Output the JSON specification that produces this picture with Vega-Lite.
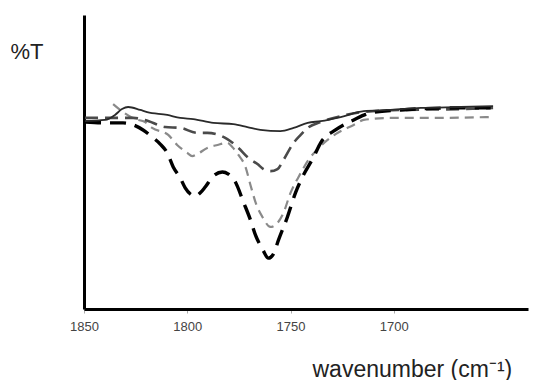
{
  "$schema": "https://vega.github.io/schema/vega-lite/v6.json",
  "width": 444,
  "height": 294,
  "autosize": {"type": "none"},
  "padding": {"left": 84, "top": 15, "right": 19, "bottom": 71},
  "background": "white",
  "config": {"view": {"stroke": null}, "font": "Liberation Sans"},
  "data": {"values": [
    {"s":"A","wn":1849.5,"t":63.9},{"s":"A","wn":1839.8,"t":64.3},{"s":"A","wn":1835.0,"t":66.0},{"s":"A","wn":1831.6,"t":68.0},{"s":"A","wn":1828.6,"t":68.7},{"s":"A","wn":1822.8,"t":67.7},{"s":"A","wn":1819.4,"t":67.0},{"s":"A","wn":1809.7,"t":66.0},{"s":"A","wn":1803.4,"t":65.0},{"s":"A","wn":1797.1,"t":64.6},{"s":"A","wn":1787.4,"t":63.3},{"s":"A","wn":1777.7,"t":62.9},{"s":"A","wn":1770.9,"t":61.9},{"s":"A","wn":1764.6,"t":60.9},{"s":"A","wn":1754.9,"t":60.5},{"s":"A","wn":1748.5,"t":61.6},{"s":"A","wn":1741.7,"t":63.3},{"s":"A","wn":1735.4,"t":63.9},{"s":"A","wn":1725.7,"t":65.3},{"s":"A","wn":1714.6,"t":67.3},{"s":"A","wn":1702.9,"t":67.7},{"s":"A","wn":1686.9,"t":68.4},{"s":"A","wn":1667.5,"t":68.7},{"s":"A","wn":1651.9,"t":69.0},
    {"s":"B","wn":1849.5,"t":65.0},{"s":"B","wn":1839.8,"t":65.0},{"s":"B","wn":1826.2,"t":65.0},{"s":"B","wn":1820.4,"t":64.3},{"s":"B","wn":1810.7,"t":61.9},{"s":"B","wn":1803.4,"t":61.6},{"s":"B","wn":1795.1,"t":59.9},{"s":"B","wn":1790.3,"t":59.9},{"s":"B","wn":1780.6,"t":57.8},{"s":"B","wn":1775.2,"t":54.8},{"s":"B","wn":1770.4,"t":51.4},{"s":"B","wn":1766.0,"t":49.3},{"s":"B","wn":1763.1,"t":47.6},{"s":"B","wn":1759.7,"t":46.9},{"s":"B","wn":1756.3,"t":47.6},{"s":"B","wn":1753.4,"t":50.7},{"s":"B","wn":1748.5,"t":56.5},{"s":"B","wn":1745.1,"t":59.2},{"s":"B","wn":1741.7,"t":61.6},{"s":"B","wn":1735.4,"t":63.6},{"s":"B","wn":1725.7,"t":65.6},{"s":"B","wn":1714.6,"t":67.0},{"s":"B","wn":1696.6,"t":67.7},{"s":"B","wn":1667.5,"t":68.0},{"s":"B","wn":1651.9,"t":68.4},
    {"s":"C","wn":1835.9,"t":69.7},{"s":"C","wn":1831.1,"t":67.0},{"s":"C","wn":1825.2,"t":64.6},{"s":"C","wn":1820.4,"t":63.6},{"s":"C","wn":1817.0,"t":61.6},{"s":"C","wn":1809.2,"t":59.2},{"s":"C","wn":1804.9,"t":55.8},{"s":"C","wn":1800.0,"t":53.1},{"s":"C","wn":1797.6,"t":52.0},{"s":"C","wn":1795.1,"t":52.7},{"s":"C","wn":1790.3,"t":54.8},{"s":"C","wn":1785.4,"t":55.8},{"s":"C","wn":1780.6,"t":56.5},{"s":"C","wn":1778.2,"t":55.1},{"s":"C","wn":1775.2,"t":52.4},{"s":"C","wn":1771.8,"t":48.3},{"s":"C","wn":1769.4,"t":42.2},{"s":"C","wn":1766.5,"t":35.4},{"s":"C","wn":1763.6,"t":31.3},{"s":"C","wn":1759.7,"t":27.9},{"s":"C","wn":1756.8,"t":28.9},{"s":"C","wn":1753.4,"t":32.7},{"s":"C","wn":1750.0,"t":39.5},{"s":"C","wn":1746.1,"t":44.9},{"s":"C","wn":1741.3,"t":50.7},{"s":"C","wn":1735.4,"t":55.4},{"s":"C","wn":1728.2,"t":59.5},{"s":"C","wn":1719.4,"t":62.6},{"s":"C","wn":1714.6,"t":64.3},{"s":"C","wn":1701.5,"t":65.0},{"s":"C","wn":1682.0,"t":65.0},{"s":"C","wn":1652.9,"t":65.3},
    {"s":"D","wn":1849.5,"t":63.6},{"s":"D","wn":1837.4,"t":63.3},{"s":"D","wn":1831.1,"t":63.3},{"s":"D","wn":1821.4,"t":60.9},{"s":"D","wn":1817.0,"t":58.5},{"s":"D","wn":1813.1,"t":56.1},{"s":"D","wn":1809.7,"t":53.1},{"s":"D","wn":1806.8,"t":48.3},{"s":"D","wn":1803.4,"t":44.6},{"s":"D","wn":1801.0,"t":41.2},{"s":"D","wn":1798.5,"t":39.1},{"s":"D","wn":1796.1,"t":38.4},{"s":"D","wn":1793.7,"t":39.5},{"s":"D","wn":1791.3,"t":41.5},{"s":"D","wn":1787.4,"t":45.2},{"s":"D","wn":1783.0,"t":46.6},{"s":"D","wn":1780.1,"t":45.9},{"s":"D","wn":1776.7,"t":43.2},{"s":"D","wn":1772.8,"t":36.4},{"s":"D","wn":1769.4,"t":30.3},{"s":"D","wn":1767.0,"t":25.2},{"s":"D","wn":1763.6,"t":20.4},{"s":"D","wn":1760.7,"t":17.3},{"s":"D","wn":1758.3,"t":18.7},{"s":"D","wn":1755.8,"t":23.5},{"s":"D","wn":1751.5,"t":31.3},{"s":"D","wn":1747.6,"t":39.5},{"s":"D","wn":1744.2,"t":44.9},{"s":"D","wn":1738.8,"t":51.7},{"s":"D","wn":1735.4,"t":56.5},{"s":"D","wn":1728.2,"t":60.9},{"s":"D","wn":1719.4,"t":64.3},{"s":"D","wn":1711.2,"t":66.7},{"s":"D","wn":1696.6,"t":67.7},{"s":"D","wn":1667.5,"t":68.4},{"s":"D","wn":1651.9,"t":68.4}
  ]},
  "encoding": {
    "x": {
      "field": "wn", "type": "quantitative",
      "scale": {"domain": [1850, 1635], "nice": false, "zero": false},
      "axis": {
        "values": [1850, 1800, 1750, 1700],
        "format": "d",
        "grid": false,
        "labelFlush": false,
        "labelOverlap": false,
        "domainColor": "black", "domainWidth": 3,
        "tickColor": "#aaa", "tickSize": 4, "tickWidth": 1,
        "labelFont": "Liberation Sans", "labelFontSize": 13, "labelColor": "#444", "labelPadding": 7,
        "title": "wavenumber (cm⁻¹)",
        "titleFont": "Liberation Sans", "titleFontSize": 23, "titleFontWeight": "normal", "titleColor": "#222",
        "titleAlign": "left", "titleAnchor": "start", "titleBaseline": "alphabetic",
        "titleX": 228, "titleY": 67
      }
    },
    "y": {
      "field": "t", "type": "quantitative",
      "scale": {"domain": [0, 100], "nice": false},
      "axis": {
        "ticks": false, "labels": false, "grid": false,
        "domainColor": "black", "domainWidth": 3,
        "title": "%T",
        "titleFont": "Liberation Sans", "titleFontSize": 22, "titleFontWeight": "normal", "titleColor": "#222",
        "titleAngle": 0, "titleAlign": "left", "titleBaseline": "alphabetic",
        "titleX": -74, "titleY": 43
      }
    }
  },
  "layer": [
    {"transform": [{"filter": "datum.s === 'C'"}],
     "mark": {"type": "line", "interpolate": "monotone", "color": "#8a8a8a", "strokeWidth": 2.2, "strokeDash": [9, 6], "strokeCap": "butt"}},
    {"transform": [{"filter": "datum.s === 'B'"}],
     "mark": {"type": "line", "interpolate": "monotone", "color": "#4a4a4a", "strokeWidth": 2.6, "strokeDash": [13, 7], "strokeCap": "butt"}},
    {"transform": [{"filter": "datum.s === 'D'"}],
     "mark": {"type": "line", "interpolate": "monotone", "color": "#000000", "strokeWidth": 3.4, "strokeDash": [16, 9], "strokeCap": "butt"}},
    {"transform": [{"filter": "datum.s === 'A'"}],
     "mark": {"type": "line", "interpolate": "monotone", "color": "#2a2a2a", "strokeWidth": 1.8}}
  ]
}
